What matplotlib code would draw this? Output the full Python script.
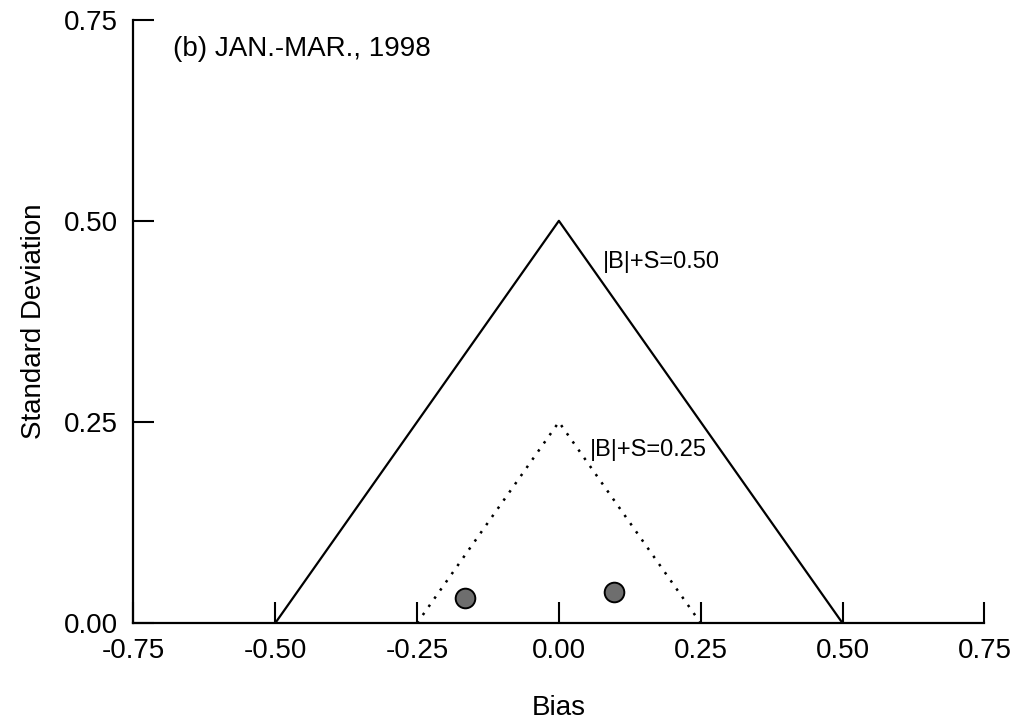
import matplotlib
matplotlib.use('Agg')
import matplotlib.pyplot as plt

plt.rcParams['font.family'] = ['Liberation Sans', 'DejaVu Sans']

# outer triangle |B|+S=0.50 and inner triangle |B|+S=0.25
outer_bias = [-0.50, 0.00, 0.50]
outer_std = [0.00, 0.50, 0.00]
inner_bias = [-0.25, 0.00, 0.25]
inner_std = [0.00, 0.25, 0.00]

# observed points
point_bias = [-0.165, 0.097]
point_std = [0.031, 0.039]

x_ticks = [-0.75, -0.50, -0.25, 0.00, 0.25, 0.50, 0.75]
y_ticks = [0.00, 0.25, 0.50, 0.75]

fig = plt.figure(figsize=(10.18, 7.28), dpi=100)
ax = fig.add_axes([0.131, 0.144, 0.836, 0.829])

ax.plot(outer_bias, outer_std, color='black', linewidth=1.6)
ax.plot(inner_bias, inner_std, color='black', linewidth=1.8, linestyle=(0, (1, 3)))
ax.scatter(point_bias, point_std, s=200, facecolor='#6e6e6e', edgecolor='black',
           linewidth=1.4, zorder=3)

ax.set_xlim(-0.75, 0.75)
ax.set_ylim(0, 0.75)
ax.set_xticks(x_ticks)
ax.set_yticks(y_ticks)
ax.set_xticklabels([f'{v:.2f}' for v in x_ticks])
ax.set_yticklabels([f'{v:.2f}' for v in y_ticks])
ax.tick_params(direction='in', length=15, width=1.5, labelsize=20, pad=11)

for side in ['top', 'right']:
    ax.spines[side].set_visible(False)
for side in ['left', 'bottom']:
    ax.spines[side].set_linewidth(1.6)

ax.set_xlabel('Bias', fontsize=20, labelpad=22)
ax.set_ylabel('Standard Deviation', fontsize=20, labelpad=12)

ax.text(-0.681, 0.713, '(b) JAN.-MAR., 1998', fontsize=20, va='center')
ax.text(0.077, 0.449, '|B|+S=0.50', fontsize=17, va='center')
ax.text(0.261, 0.215, '|B|+S=0.25', fontsize=17, va='center', ha='right')

fig.savefig('out.png', dpi=100)
